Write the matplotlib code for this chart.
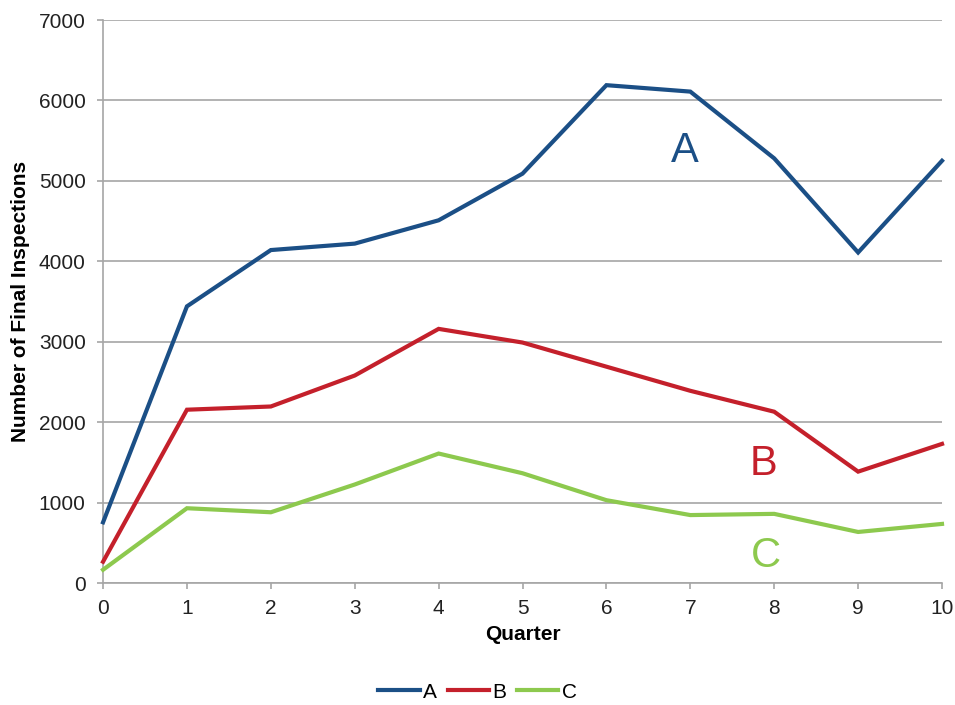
import matplotlib
matplotlib.use('Agg')
import matplotlib.pyplot as plt

plt.rcParams['font.family'] = ['Liberation Sans', 'DejaVu Sans']

quarters = [0, 1, 2, 3, 4, 5, 6, 7, 8, 9, 10]
series_a = [755, 3440, 4140, 4220, 4510, 5090, 6190, 6110, 5280, 4110, 5250]
series_b = [265, 2155, 2195, 2580, 3160, 2990, 2690, 2390, 2130, 1385, 1730]
series_c = [165, 930, 880, 1225, 1610, 1365, 1030, 845, 860, 635, 735]
names = ['A', 'B', 'C']
colors = ['#1B4F86', '#C4202B', '#8DC94E']

grey = '#a6a6a6'

fig = plt.figure(figsize=(9.55, 7.05), dpi=100)
ax = fig.add_axes([0.1079, 0.1730, 0.8785, 0.7986])

for ys, nm, col in zip([series_a, series_b, series_c], names, colors):
  ax.plot(quarters, ys, color=col, lw=3.0, label=nm, solid_joinstyle='miter', clip_on=False, zorder=3)

# big letters next to lines
ax.text(6.94, 5370, 'A', color=colors[0], fontsize=30, ha='center', va='center')
ax.text(7.87, 1480, 'B', color=colors[1], fontsize=30, ha='center', va='center')
ax.text(7.90, 330, 'C', color=colors[2], fontsize=30, ha='center', va='center')

ax.set_xlim(0, 10)
ax.set_ylim(0, 7000)
ax.set_xticks(quarters)
ax.set_yticks(range(0, 7001, 1000))
ax.yaxis.grid(True, color=grey, lw=1.2)
ax.set_axisbelow(True)
for s in ['top', 'right']:
  ax.spines[s].set_visible(False)
for s in ['left', 'bottom']:
  ax.spines[s].set_color(grey)
  ax.spines[s].set_linewidth(1.2)
ax.tick_params(axis='both', colors=grey, length=4.5, width=1.2, labelcolor='#222222', labelsize=15)
ax.tick_params(axis='x', pad=7)
ax.tick_params(axis='y', pad=8)

ax.set_xlabel('Quarter', fontsize=15, fontweight='bold', labelpad=5)
ax.set_ylabel('Number of Final Inspections', fontsize=15, fontweight='bold', labelpad=6)

fig.legend(loc='center', bbox_to_anchor=(0.5, 1 - 692 / 705), ncol=3, frameon=False,
           fontsize=15, handlelength=2.0, handletextpad=0.15, columnspacing=0.5)

plt.savefig('out.png', dpi=100)
